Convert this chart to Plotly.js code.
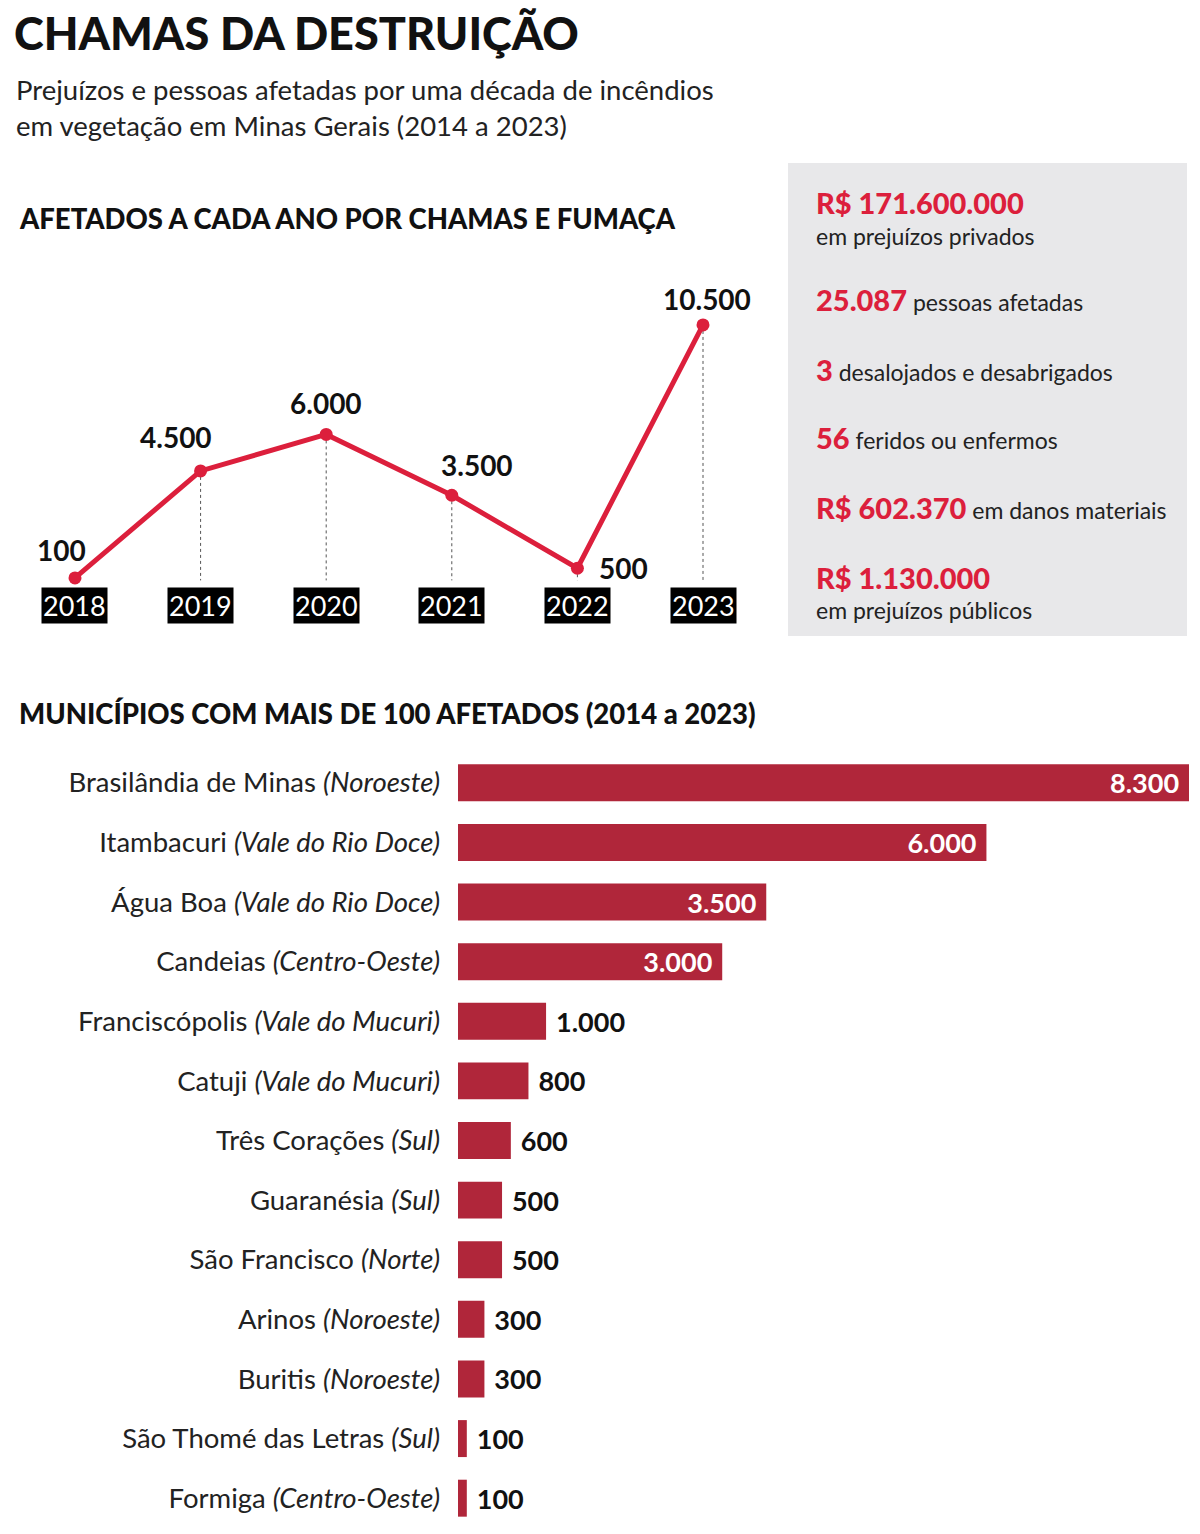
<!DOCTYPE html>
<html>
<head>
<meta charset="utf-8">
<script src="https://cdn.plot.ly/plotly-3.0.1.min.js"></script>
<style>html,body{margin:0;padding:0;background:#fff}#chart{width:1200px;height:1534px}</style>
</head>
<body>
<div id="chart"></div>
<script>
// ---- Data ----
const years = [2018, 2019, 2020, 2021, 2022, 2023];
const affected = [100, 4500, 6000, 3500, 500, 10500];

const municipios = ["Brasilândia de Minas", "Itambacuri", "Água Boa", "Candeias", "Franciscópolis", "Catuji", "Três Corações", "Guaranésia", "São Francisco", "Arinos", "Buritis", "São Thomé das Letras", "Formiga"];
const regioes = ["Noroeste", "Vale do Rio Doce", "Vale do Rio Doce", "Centro-Oeste", "Vale do Mucuri", "Vale do Mucuri", "Sul", "Sul", "Norte", "Noroeste", "Noroeste", "Sul", "Centro-Oeste"];
const afetadosMun = [8300, 6000, 3500, 3000, 1000, 800, 600, 500, 500, 300, 300, 100, 100];

const boxNumbers = ["R$ 171.600.000", "25.087", "3", "56", "R$ 602.370", "R$ 1.130.000"];
const boxTexts = ["em prejuízos privados", "pessoas afetadas", "desalojados e desabrigados", "feridos ou enfermos", "em danos materiais", "em prejuízos públicos"];

// ---- Helpers ----
const W = 1200, H = 1534;
const px = x => x / W;
const py = y => 1 - y / H;
const fmt = v => v.toLocaleString('pt-BR');
const RED = '#dc1f3c';
const BAR = '#b0263a';
const FONT = 'Lato, "Open Sans", sans-serif';
const NB = '\u00a0';

// ---- Traces ----
const dropX = [], dropY = [];
years.forEach((yr, i) => { dropX.push(yr, yr, null); dropY.push(affected[i], 0, null); });

const inside = afetadosMun.map(v => v >= 3000);

const traces = [
  { x: dropX, y: dropY, xaxis: 'x', yaxis: 'y', mode: 'lines', type: 'scatter',
    line: { color: '#555', width: 1, dash: 'dot' }, hoverinfo: 'skip', showlegend: false },
  { x: years, y: affected, xaxis: 'x', yaxis: 'y', mode: 'lines+markers', type: 'scatter',
    line: { color: RED, width: 5 }, marker: { color: RED, size: 13 }, showlegend: false },
  { type: 'bar', orientation: 'h', xaxis: 'x2', yaxis: 'y2',
    y: municipios, x: afetadosMun,
    marker: { color: BAR },
    text: afetadosMun.map(fmt),
    texttemplate: inside.map(b => b ? '<b>%{text}</b>' + NB : NB + '<b>%{text}</b>'),
    textposition: inside.map(b => b ? 'inside' : 'outside'),
    insidetextanchor: 'end',
    insidetextfont: { family: FONT, size: 27, color: '#fff' },
    outsidetextfont: { family: FONT, size: 27, color: '#111' },
    constraintext: 'none', cliponaxis: false,
    width: 0.62, showlegend: false }
];

// ---- Annotations ----
const ann = [];
ann.push({ xref: 'paper', yref: 'paper', x: px(12), y: py(33), xanchor: 'left', yanchor: 'middle', showarrow: false,
  text: 'CHAMAS DA DESTRUIÇÃO', font: { family: FONT, size: 45, color: '#111', weight: 900 } });
ann.push({ xref: 'paper', yref: 'paper', x: px(14), y: py(107), xanchor: 'left', yanchor: 'middle', showarrow: false, align: 'left',
  text: 'Prejuízos e pessoas afetadas por uma década de incêndios<br>em vegetação em Minas Gerais (2014 a 2023)',
  font: { family: FONT, size: 27.5, color: '#222' } });
ann.push({ xref: 'paper', yref: 'paper', x: px(17), y: py(219), xanchor: 'left', yanchor: 'middle', showarrow: false,
  text: 'AFETADOS A CADA ANO POR CHAMAS E FUMAÇA', font: { family: FONT, size: 27.5, color: '#111', weight: 900 } });
ann.push({ xref: 'paper', yref: 'paper', x: px(17), y: py(714), xanchor: 'left', yanchor: 'middle', showarrow: false,
  text: 'MUNICÍPIOS COM MAIS DE 100 AFETADOS (2014 a 2023)', font: { family: FONT, size: 27.5, color: '#111', weight: 900 } });

// year labels
years.forEach(yr => ann.push({ xref: 'x', yref: 'paper', x: yr, y: py(606), xanchor: 'center', yanchor: 'middle', showarrow: false,
  text: String(yr), bgcolor: '#000', borderpad: 1, font: { family: FONT, size: 27, color: '#fff' } }));

// value labels
const vShift = [[-13, 28], [-25, 34], [0, 31], [25, 30], [46, 0], [4, 26]];
years.forEach((yr, i) => ann.push({ xref: 'x', yref: 'y', x: yr, y: affected[i], xanchor: 'center', yanchor: 'middle', showarrow: false,
  xshift: vShift[i][0], yshift: vShift[i][1], text: '<b>' + fmt(affected[i]) + '</b>', font: { family: FONT, size: 28, color: '#111' } }));

// box
const boxRows = [
  { y: 203, num: 0, inline: false },
  { y: 300, num: 1, inline: true },
  { y: 369, num: 2, inline: true },
  { y: 438, num: 3, inline: true },
  { y: 507, num: 4, inline: true },
  { y: 577, num: 5, inline: false }
];
boxRows.forEach(r => {
  const n = '<span style="color:' + RED + ';font-size:29px;font-weight:900">' + boxNumbers[r.num] + '</span>';
  if (r.inline) {
    ann.push({ xref: 'paper', yref: 'paper', x: px(814), y: py(r.y), xanchor: 'left', yanchor: 'middle', showarrow: false,
      text: n + ' ' + boxTexts[r.num], font: { family: FONT, size: 23, color: '#222' } });
  } else {
    ann.push({ xref: 'paper', yref: 'paper', x: px(814), y: py(r.y), xanchor: 'left', yanchor: 'middle', showarrow: false,
      text: boxNumbers[r.num], font: { family: FONT, size: 29, color: RED, weight: 900 } });
    ann.push({ xref: 'paper', yref: 'paper', x: px(814), y: py(r.y + 33), xanchor: 'left', yanchor: 'middle', showarrow: false,
      text: boxTexts[r.num], font: { family: FONT, size: 23, color: '#222' } });
  }
});

const layout = {
  width: W, height: H,
  margin: { l: 0, r: 0, t: 0, b: 0 },
  paper_bgcolor: '#fff', plot_bgcolor: 'rgba(0,0,0,0)',
  separators: ',.',
  font: { family: FONT, color: '#222' },
  showlegend: false,
  xaxis: { domain: [0, 780 / W], range: [2017.403, 2023.613], visible: false, fixedrange: true },
  yaxis: { domain: [py(600), py(280)], range: [-806, 12347], visible: false, fixedrange: true },
  xaxis2: { anchor: 'y2', domain: [px(458), px(1189)], range: [0, 8300], visible: false, fixedrange: true },
  yaxis2: { anchor: 'x2', domain: [py(1528), py(753)], autorange: 'reversed', type: 'category',
    showgrid: false, zeroline: false, showline: false, ticks: '', ticklabelstandoff: 17,
    tickmode: 'array', tickvals: municipios,
    ticktext: municipios.map((m, i) => m + ' <i>(' + regioes[i] + ')</i>'),
    tickfont: { family: FONT, size: 27.5, color: '#222' } },
  shapes: [
    { type: 'rect', xref: 'paper', yref: 'paper', x0: px(788), x1: px(1187), y0: py(636), y1: py(163),
      fillcolor: '#e8e8ea', line: { width: 0 }, layer: 'below' }
  ],
  annotations: ann
};

Plotly.newPlot('chart', traces, layout, { displayModeBar: false, staticPlot: true });
</script>
</body>
</html>
